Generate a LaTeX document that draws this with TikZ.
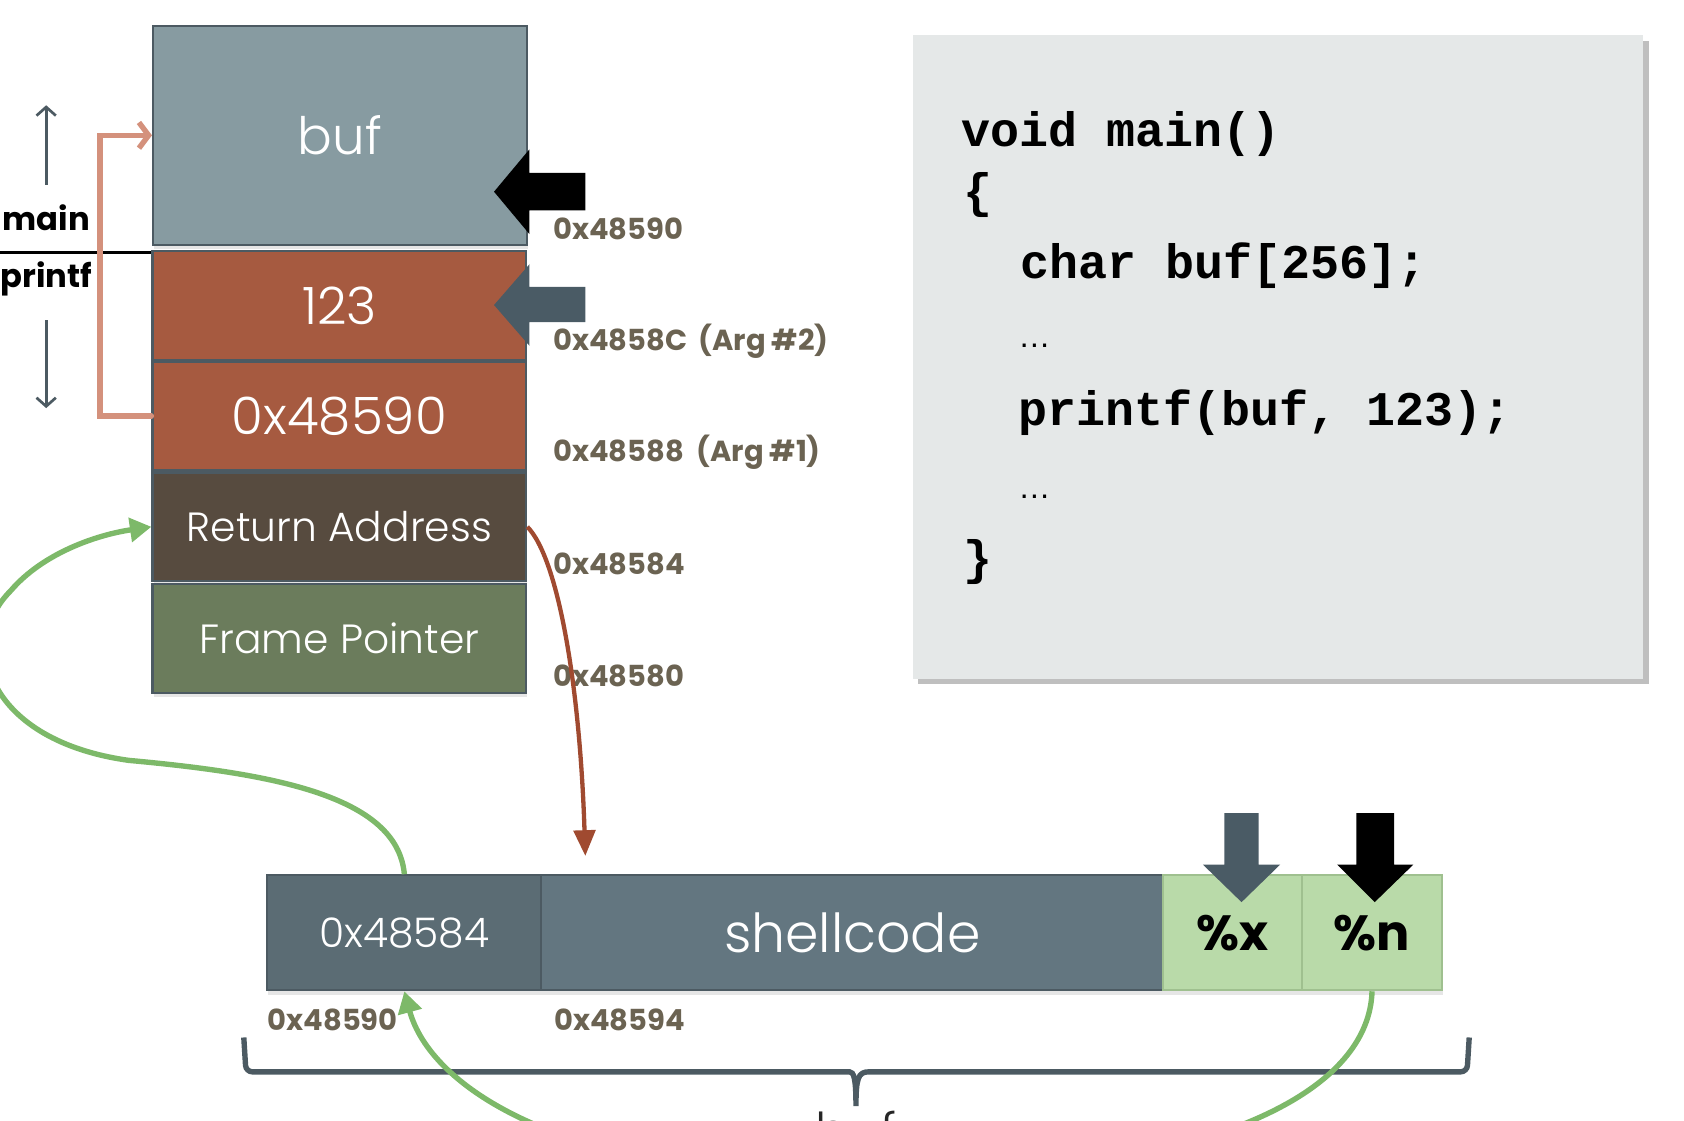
\documentclass[tikz,border=0pt]{standalone}
\usepackage{fontspec}
\setmainfont{Poppins}
\newfontfamily\lightfont{Poppins Light}
\newfontfamily\codefont{Liberation Mono}
\newfontfamily\dotsfont{Liberation Sans}
\usetikzlibrary{arrows.meta,shadows}

\definecolor{bufgray}{HTML}{879BA1}
\definecolor{rust}{HTML}{A65A40}
\definecolor{retbrown}{HTML}{574B3F}
\definecolor{fpgreen}{HTML}{6B7C5C}
\definecolor{edgegray}{HTML}{4C5A62}
\definecolor{slatedark}{HTML}{5B6C74}
\definecolor{slate}{HTML}{637680}
\definecolor{fmtgreen}{HTML}{B9DAA9}
\definecolor{fmtedge}{HTML}{9FC08F}
\definecolor{salmon}{HTML}{D4917C}
\definecolor{curvegreen}{HTML}{7DB969}
\definecolor{curvebrown}{HTML}{A04A30}
\definecolor{addrtext}{HTML}{6B6352}
\definecolor{codebg}{HTML}{E5E8E8}
\definecolor{arrowslate}{HTML}{4A5B65}

\begin{document}
\begin{tikzpicture}[
		x=1pt, y=-1pt,
		cell/.style={draw=edgegray, line width=2pt, inner sep=0pt, text=white,
			drop shadow={opacity=0.2, shadow xshift=1pt, shadow yshift=-4pt}},
		stack/.style={cell, minimum width=348pt, minimum height=101pt,
			font=\lightfont\fontsize{48}{52}\selectfont},
		bar/.style={cell, minimum height=107pt},
		addr/.style={anchor=west, inner sep=0pt, text=addrtext,
			font=\bfseries\fontsize{27}{30}\selectfont},
		side/.style={inner sep=0pt, font=\bfseries\fontsize{30}{34}\selectfont},
		codeline/.style={anchor=base west, inner sep=0pt,
			font=\codefont\bfseries\fontsize{45}{48}\selectfont},
		dotsline/.style={anchor=base west, inner sep=0pt,
			font=\dotsfont\fontsize{30}{32}\selectfont},
		updown/.style={draw=edgegray, line width=2.5pt, -{Straight Barb[length=8pt,width=18pt]}},
		greenarrow/.style={draw=curvegreen, line width=5pt, -{Triangle[length=20pt,width=22pt]}},
		brownarrow/.style={draw=curvebrown, line width=4pt, -{Triangle[length=24pt,width=20pt]}},
		salmonarrow/.style={draw=salmon, line width=5pt, line cap=round,
			-{Straight Barb[length=9pt,width=24pt]}},
		bracket/.style={draw=edgegray, line width=5pt}
		]
		\useasboundingbox (0,0) rectangle (1568,1043);
		
		% code box
		\node[fill=codebg, minimum width=680pt, minimum height=599pt,
			drop shadow={opacity=0.5, shadow xshift=5pt, shadow yshift=-5pt}] (code) at (1190,332.5) {};
		\node[codeline] (c1) at (895,136) {void main()};
		\node[codeline] (c2) at (897,193) {\{};
		\node[codeline] (c3) at (950,259) {char buf[256];};
		\node[dotsline] (c4) at (948,324) {…};
		\node[codeline] (c5) at (948,396) {printf(buf, 123);};
		\node[dotsline] (c6) at (948,464) {…};
		\node[codeline] (c7) at (897,535) {\}};
		
		% stack
		\node[stack, fill=bufgray, minimum height=204pt] (buf) at (316.5,126) {buf};
		\node[stack, fill=rust] (arg2) at (316,284.5) {123};
		\node[stack, fill=rust] (arg1) at (316,387.5) {0x48590};
		\node[stack, fill=retbrown, font=\lightfont\fontsize{38}{42}\selectfont] (ret) at (316,490.5) {Return Address};
		\node[stack, fill=fpgreen, font=\lightfont\fontsize{38}{42}\selectfont] (fp) at (316,594.5) {Frame Pointer};
		
		\node[addr] (a590) at (515,213) {0x48590};
		\node[addr] (a58c) at (515,318) {0x4858C\ \,(Arg \#2)};
		\node[addr] (a588) at (515,421) {0x48588\ \ (Arg \#1)};
		\node[addr] (a584) at (515,525) {0x48584};
		\node[addr] (a580) at (515,629) {0x48580};
		
		% pointers into the stack
		\fill[black] (545,161) -- (493,161) -- (493,139) -- (460,178.5) -- (493,218) -- (493,196) -- (545,196) -- cycle;
		\fill[arrowslate] (545,267) -- (493,267) -- (493,246) -- (460,284) -- (493,322) -- (493,300) -- (545,300) -- cycle;
		
		% main / printf
		\node[side] (mainlbl) at (43,203) {main};
		\node[side] (printflbl) at (43,260) {printf};
		\coordinate (divl) at (0,235);
		\draw[line width=2.5pt] (divl) -- (divl -| arg2.west);
		\draw[updown] ([yshift=31pt]mainlbl.center) -- ++(0,-74);
		\draw[updown] ([yshift=-38pt]printflbl.center) -- ++(0,82);
		\draw[salmonarrow] (arg1.west) -- ++(-48,0) |- (buf.west);
		
		% format string in buf
		\node[bar, fill=slatedark, minimum width=255pt, font=\lightfont\fontsize{38}{42}\selectfont] (ptr) at (376.5,868.5) {0x48584};
		\node[bar, fill=slate, minimum width=579pt, font=\lightfont\fontsize{50}{54}\selectfont] (shell) at (793.5,868.5) {shellcode};
		\node[bar, fill=fmtgreen, draw=fmtedge, minimum width=129pt, text=black, font=\bfseries\fontsize{46}{50}\selectfont] (px) at (1147.5,868.5) {\%x};
		\node[bar, fill=fmtgreen, draw=fmtedge, minimum width=131pt, text=black, font=\bfseries\fontsize{46}{50}\selectfont] (pn) at (1277.5,868.5) {\%n};
		
		\fill[arrowslate] (1140,757) -- (1140,805) -- (1120,805) -- (1156,840) -- (1192,805) -- (1172,805) -- (1172,757) -- cycle;
		\fill[black] (1263,757) -- (1263,805) -- (1245,805) -- (1280,840) -- (1316,805) -- (1298,805) -- (1298,757) -- cycle;
		
		\node[addr] (b590) at (249,950) {0x48590};
		\node[addr] (b594) at (516,950) {0x48594};
		
		\draw[bracket] (227,966) [rounded corners=6pt] -- (229,998) -- (785,998) [sharp corners]
			.. controls (795,998) and (797,1004) .. (797,1030)
			.. controls (797,1004) and (799,998) .. (809,998) [rounded corners=6pt] -- (1366,998) -- (1368,966);
		\node[anchor=north, inner sep=0pt, text=black!85, font=\lightfont\fontsize{46}{50}\selectfont] (buflbl) at (797,1034) {buf};
		
		% jumps
		\coordinate (brtip) at (545,797);
		\draw[brownarrow] (ret.east) .. controls (520,520) and (540,640) .. (brtip);
		\draw[greenarrow] (ptr.north) .. controls (370,740) and (250,720) .. (120,708)
			.. controls (-10,690) and (-40,600) .. (10,550)
			.. controls (40,515) and (90,498) .. (ret.west);
		\draw[greenarrow] (pn.south) .. controls (1275,1010) and (1150,1090) .. (830,1100)
			.. controls (520,1100) and (400,1010) .. (ptr.south);
	\end{tikzpicture}
\end{document}
